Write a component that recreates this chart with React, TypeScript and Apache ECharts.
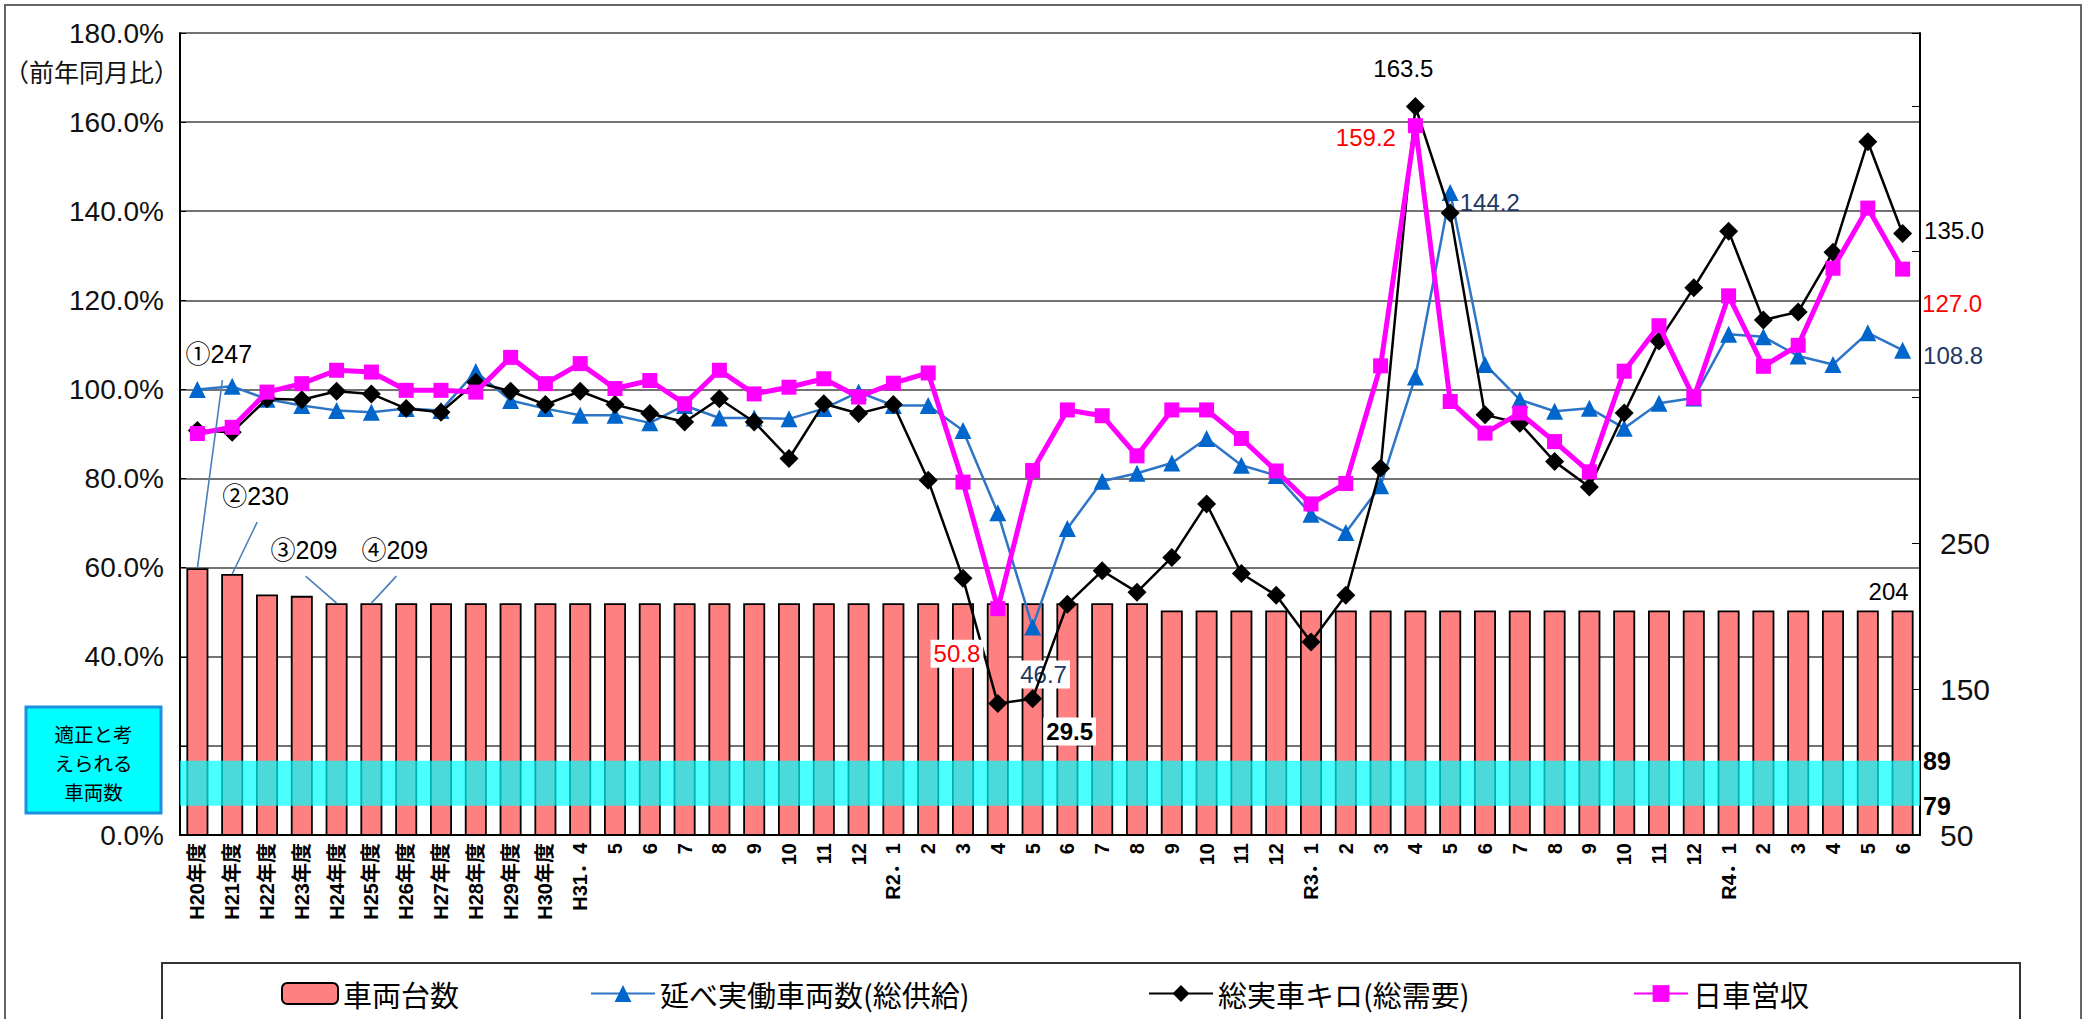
import React, { useEffect, useRef } from 'react';
import * as echarts from 'echarts';

const categories = [
  'H20年度', 'H21年度', 'H22年度', 'H23年度', 'H24年度', 'H25年度', 'H26年度', 'H27年度', 'H28年度', 'H29年度', 'H30年度',
  'H31．4', '5', '6', '7', '8', '9', '10', '11', '12',
  'R2．1', '2', '3', '4', '5', '6', '7', '8', '9', '10', '11', '12',
  'R3．1', '2', '3', '4', '5', '6', '7', '8', '9', '10', '11', '12',
  'R4．1', '2', '3', '4', '5', '6',
];

// 車両台数 (right axis)
const vehicleCount = [
  233, 229, 215, 214, 209, 209, 209, 209, 209, 209,
  209, 209, 209, 209, 209, 209, 209, 209, 209, 209,
  209, 209, 209, 209, 209, 209, 209, 209, 204, 204,
  204, 204, 204, 204, 204, 204, 204, 204, 204, 204,
  204, 204, 204, 204, 204, 204, 204, 204, 204, 204,
];

// 延べ実働車両数（総供給） 前年同月比 %
const supplyRatio = [
  100.0, 100.7, 97.8, 96.4, 95.3, 94.9, 95.7, 95.3, 104.0, 97.5,
  95.7, 94.2, 94.2, 92.5, 96.4, 93.6, 93.6, 93.4, 95.7, 99.4,
  96.4, 96.4, 90.8, 72.3, 46.7, 68.8, 79.4, 81.2, 83.5, 89.0,
  83.0, 80.7, 72.0, 67.9, 78.4, 102.8, 144.2, 105.6, 97.7, 95.1,
  95.8, 91.3, 96.9, 98.1, 112.4, 111.8, 107.5, 105.6, 112.7, 108.8,
];

// 総実車キロ（総需要） 前年同月比 %
const demandRatio = [
  90.8, 90.4, 97.9, 97.7, 99.6, 99.0, 95.7, 94.9, 101.6, 99.6,
  96.6, 99.6, 96.6, 94.6, 92.7, 97.9, 92.7, 84.5, 96.8, 94.6,
  96.6, 79.6, 57.6, 29.5, 30.6, 51.8, 59.3, 54.5, 62.3, 74.3,
  58.7, 53.8, 43.3, 53.8, 82.3, 163.5, 139.6, 94.3, 92.4, 83.8,
  78.1, 94.7, 110.9, 122.8, 135.5, 115.6, 117.4, 130.8, 155.6, 135.0,
];

// 日車営収 前年同月比 %
const revenueRatio = [
  90.1, 91.5, 99.4, 101.3, 104.3, 103.9, 99.8, 99.8, 99.4, 107.2,
  101.3, 105.8, 100.2, 102.0, 96.8, 104.3, 99.0, 100.5, 102.4, 98.3,
  101.4, 103.7, 79.2, 50.8, 81.8, 95.4, 94.1, 85.1, 95.4, 95.4,
  89.0, 81.7, 74.3, 78.9, 105.3, 159.2, 97.3, 90.2, 94.7, 88.3,
  81.5, 104.1, 114.3, 98.1, 121.0, 105.2, 109.9, 127.2, 140.7, 127.0,
];

const seriesNames = ['車両台数', '延べ実働車両数(総供給)', '総実車キロ(総需要)', '日車営収'];
const leftAxisRange = [0, 180, 20];
const rightAxisRange = [50, 600, 100];
const rightAxisShownLabels = [50, 150, 250];
const bandRange = [70, 101];
const bandLabels = ['89', '79'];
const boxLines = ['適正と考', 'えられる', '車両数'];
const barAnnotations = [
  { index: 0, text: '①247' },
  { index: 1, text: '②230' },
  { index: 4, text: '③209' },
  { index: 5, text: '④209' },
];

const FONT = '"Liberation Sans", Arial, "Noto Sans CJK JP", sans-serif';
const CJK = '"Noto Sans CJK JP", "Liberation Sans", sans-serif';
const RED = '#FF0000';
const NAVY = '#1F3864';

const lbl = (color: string, extra: any = {}) => ({
  show: true,
  color,
  fontSize: 24,
  fontFamily: FONT,
  formatter: (p: any) => Number(p.value).toFixed(1),
  ...extra,
});

function withLabels(values: number[], labels: Record<number, any>) {
  return values.map((v, i) => (labels[i] ? { value: v, label: labels[i] } : v));
}

export default function App() {
  const ref = useRef<HTMLDivElement>(null);

  useEffect(() => {
    const chart = echarts.init(ref.current!, null, { renderer: 'svg' });

    const option: any = {
      animation: false,
      backgroundColor: '#fff',
      textStyle: { fontFamily: FONT },
      grid: { left: 180, right: 164, top: 33, bottom: 184, containLabel: false },
      legend: [
        { left: 276, itemWidth: 56 },
        { left: 585, itemWidth: 64 },
        { left: 1143, itemWidth: 64 },
        { left: 1628, itemWidth: 54 },
      ].map((l, k) => ({
        data: [seriesNames[k]],
        left: l.left,
        top: 974,
        itemWidth: l.itemWidth,
        itemHeight: 21,
        selectedMode: false,
        textStyle: { fontSize: 29, fontFamily: CJK, color: '#000' },
      })),
      xAxis: {
        type: 'category',
        data: categories,
        axisLine: { lineStyle: { color: '#000', width: 2 } },
        axisTick: { inside: true, length: 6, lineStyle: { color: '#000' } },
        axisLabel: {
          interval: 0,
          rotate: 90,
          fontSize: 20,
          fontWeight: 'bold',
          color: '#000',
          fontFamily: FONT,
          margin: 8,
        },
      },
      yAxis: [
        {
          type: 'value',
          min: leftAxisRange[0],
          max: leftAxisRange[1],
          interval: leftAxisRange[2],
          axisLine: { show: true, lineStyle: { color: '#000', width: 2 } },
          axisTick: { show: true, inside: true, length: 6, lineStyle: { color: '#000' } },
          splitLine: { show: true, lineStyle: { color: '#444', width: 1.6 } },
          axisLabel: {
            fontSize: 28,
            color: '#111',
            margin: 16,
            fontFamily: FONT,
            formatter: (v: number) => (v === 20 ? '' : v.toFixed(1) + '%'),
          },
        },
        {
          type: 'value',
          min: rightAxisRange[0],
          max: rightAxisRange[1],
          interval: rightAxisRange[2],
          position: 'right',
          axisLine: { show: true, lineStyle: { color: '#000', width: 2 } },
          axisTick: { show: true, inside: true, length: 8, lineStyle: { color: '#000' } },
          splitLine: { show: false },
          axisLabel: {
            fontSize: 30,
            color: '#111',
            margin: 20,
            fontFamily: FONT,
            formatter: (v: number) => (rightAxisShownLabels.includes(v) ? String(v) : ''),
          },
        },
      ],
      series: [
        {
          name: seriesNames[0],
          type: 'bar',
          yAxisIndex: 1,
          barWidth: 22,
          z: 2,
          itemStyle: { color: '#FF8080', borderColor: '#000', borderWidth: 1.8 },
          data: withLabels(vehicleCount, {
            49: { show: true, position: 'top', offset: [-14, -2], fontSize: 24, color: '#000', fontFamily: FONT },
          }),
          markArea: {
            z: 3,
            silent: true,
            itemStyle: { color: 'rgba(0,255,255,0.7)' },
            data: [[{ yAxis: bandRange[0] }, { yAxis: bandRange[1] }]],
          },
        },
        {
          name: seriesNames[1],
          type: 'line',
          z: 4,
          symbol: 'triangle',
          symbolSize: 17,
          color: '#0070C0',
          lineStyle: { color: '#2E75C6', width: 2.5 },
          itemStyle: { color: '#0066CC' },
          data: withLabels(supplyRatio, {
            24: lbl(NAVY, { position: 'bottom', offset: [11, 20], backgroundColor: '#fff', padding: [2, 3] }),
            36: lbl(NAVY, { position: 'right', offset: [-4, 10] }),
            49: lbl(NAVY, { position: 'right', offset: [7, 5] }),
          }),
        },
        {
          name: seriesNames[2],
          type: 'line',
          z: 5,
          symbol: 'diamond',
          symbolSize: 19,
          color: '#000',
          lineStyle: { color: '#000', width: 2.5 },
          itemStyle: { color: '#000' },
          data: withLabels(demandRatio, {
            23: lbl('#000', { position: 'right', offset: [31, 28], fontWeight: 'bold', backgroundColor: '#fff', padding: [2, 3] }),
            35: lbl('#000', { position: 'top', offset: [-12, -12] }),
            49: lbl('#000', { position: 'right', offset: [7, -3] }),
          }),
        },
        {
          name: seriesNames[3],
          type: 'line',
          z: 6,
          symbol: 'rect',
          symbolSize: 15,
          color: '#FF00FF',
          lineStyle: { color: '#FF00FF', width: 5 },
          itemStyle: { color: '#FF00FF' },
          data: withLabels(revenueRatio, {
            23: lbl(RED, { position: 'left', offset: [-2, 45], backgroundColor: '#fff', padding: [2, 3] }),
            35: lbl(RED, { position: 'left', offset: [-7, 12] }),
            49: lbl(RED, { position: 'right', offset: [7, 34] }),
          }),
        },
      ],
    };

    chart.setOption(option);

    const px = (i: number, v: number) => chart.convertToPixel({ xAxisIndex: 0, yAxisIndex: 1 } as any, [i, v]) as number[];
    const lastX = px(categories.length - 1, rightAxisRange[0])[0];
    const rightEdge = lastX + 17.5;

    const annOffsets = [
      { tx: -12, ty: -214, lx: 25, ly: -188 },
      { tx: -10, ty: -78, lx: 25, ly: -52 },
      { tx: -66, ty: -53, lx: -31, ly: -27 },
      { tx: -10, ty: -53, lx: 25, ly: -27 },
    ];

    const graphics: any[] = [];
    // outer frame
    graphics.push({
      type: 'rect', shape: { x: 5, y: 5, width: 2076, height: 1030 },
      style: { fill: 'none', stroke: '#666', lineWidth: 2 }, z: 0, silent: true,
    });
    // legend frame
    graphics.push({
      type: 'rect', shape: { x: 162, y: 963, width: 1858, height: 80 },
      style: { fill: 'none', stroke: '#333', lineWidth: 2 }, z: 1, silent: true,
    });
    // axis name
    graphics.push({
      type: 'text', x: 4, y: 71,
      style: { text: '（前年同月比）', fontSize: 25, fontFamily: CJK, fill: '#111', verticalAlign: 'middle' },
    });
    // cyan box
    graphics.push({
      type: 'rect', shape: { x: 26, y: 707, width: 135, height: 106 },
      style: { fill: '#00FFFF', stroke: '#1E90E0', lineWidth: 3 }, z: 10,
    });
    boxLines.forEach((t, k) => {
      graphics.push({
        type: 'text', x: 93.5, y: 733 + k * 29, z: 11,
        style: {
          text: t, fontSize: 19.5, fontFamily: CJK,
          fill: '#000', align: 'center', verticalAlign: 'middle',
        },
      });
    });
    // band labels
    const yTop = px(0, bandRange[1])[1];
    const yBot = px(0, bandRange[0])[1];
    [yTop, yBot].forEach((y, k) => {
      graphics.push({
        type: 'text', x: rightEdge + 3, y, z: 10,
        style: { text: bandLabels[k], fontSize: 25, fontWeight: 'bold', fontFamily: FONT, fill: '#000', verticalAlign: 'middle' },
      });
    });
    // bar annotations with leader lines
    barAnnotations.forEach((a, k) => {
      const p = px(a.index, vehicleCount[a.index]);
      const o = annOffsets[k];
      graphics.push({
        type: 'text', x: p[0] + o.tx, y: p[1] + o.ty, z: 10,
        style: { text: a.text, fontSize: 25, fontFamily: FONT, fill: '#000', verticalAlign: 'middle' },
      });
      graphics.push({
        type: 'line', z: 10, silent: true,
        shape: { x1: p[0] + o.lx, y1: p[1] + o.ly, x2: p[0], y2: p[1] },
        style: { stroke: '#4A7EBB', lineWidth: 1.6 },
      });
    });

    chart.setOption({ graphic: graphics });

    return () => chart.dispose();
  }, []);

  return (
    <div
      ref={ref}
      style={{ position: 'fixed', left: 0, top: 0, width: 2084, height: 1019, background: '#fff' }}
    />
  );
}
